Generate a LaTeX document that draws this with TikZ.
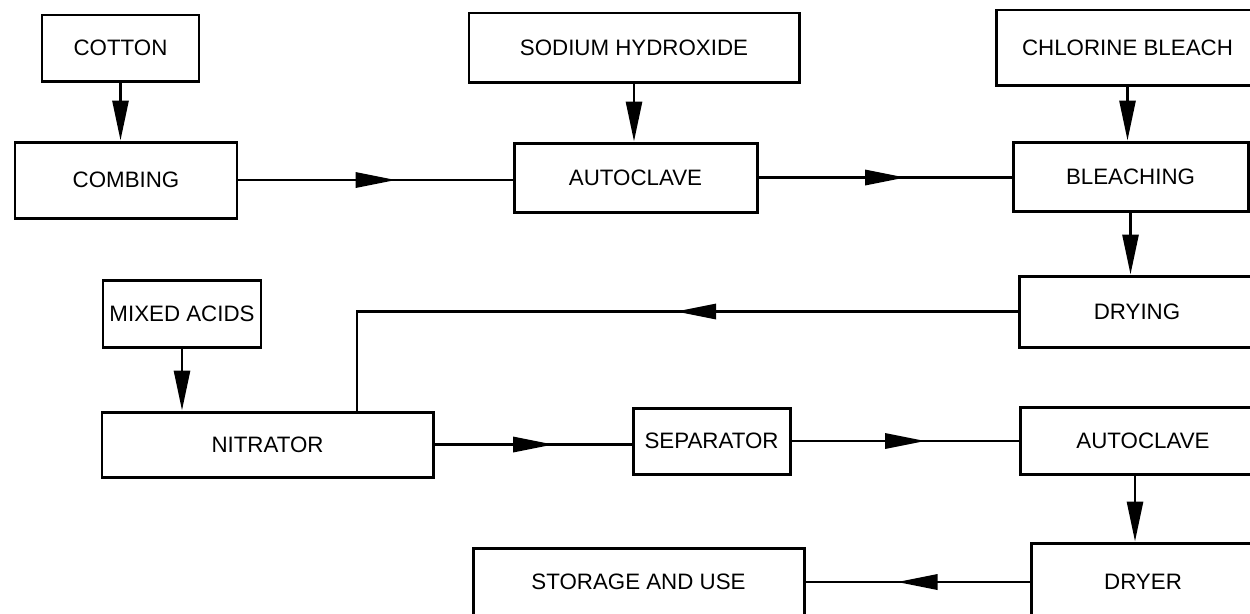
\documentclass[tikz,border=0pt]{standalone}
\usepackage{fontspec}
\setmainfont{Liberation Sans}
\usetikzlibrary{arrows.meta,decorations.markings}

\begin{document}
\begin{tikzpicture}[
  unit/.style={draw, line width=1.7pt, inner sep=0pt, font=\fontsize{12.7}{15}\selectfont},
  feed/.style={line width=1.6pt, -{Triangle[length=0.8cm,width=0.32cm]}},
  flow/.style={line width=1.6pt, postaction={decorate},
    decoration={markings, mark=at position #1 with {\fill (-0.4,-0.16) -- (0.4,0) -- (-0.4,0.16) -- cycle;}}},
  flow/.default=0.5,
]

\path[use as bounding box, clip] (0,0) rectangle (25,-12.26);

% --- top row ---
\node[unit, minimum width=3.14cm, minimum height=1.32cm] (cotton) at (2.41,-0.96) {COTTON};
\node[unit, minimum width=6.60cm, minimum height=1.38cm] (naoh) at (12.68,-0.95) {SODIUM HYDROXIDE};
\node[unit, minimum width=5.26cm, minimum height=1.50cm] (chlorine) at (22.55,-0.95) {CHLORINE BLEACH};

% --- pretreatment ---
\node[unit, minimum width=4.44cm, minimum height=1.52cm] (combing) at (2.52,-3.60) {COMBING};
\node[unit, minimum width=4.86cm, minimum height=1.38cm] (autoA) at (12.71,-3.55) {AUTOCLAVE};
\node[unit, minimum width=4.70cm, minimum height=1.38cm] (bleaching) at (22.61,-3.53) {BLEACHING};
\node[unit, minimum width=4.72cm, minimum height=1.42cm] (drying) at (22.74,-6.23) {DRYING};

% --- nitration ---
\node[unit, minimum width=3.16cm, minimum height=1.34cm] (mixed) at (3.64,-6.27) {MIXED ACIDS};
\node[unit, minimum width=6.62cm, minimum height=1.30cm] (nitrator) at (5.35,-8.89) {NITRATOR};
\node[unit, minimum width=3.14cm, minimum height=1.32cm] (separator) at (14.23,-8.82) {SEPARATOR};
\node[unit, minimum width=4.92cm, minimum height=1.34cm] (autoB) at (22.86,-8.81) {AUTOCLAVE};

% --- finishing ---
\node[unit, minimum width=4.48cm, minimum height=1.56cm] (dryer) at (22.86,-11.64) {DRYER};
\node[unit, minimum width=6.62cm, minimum height=1.36cm] (storage) at (12.77,-11.64) {STORAGE AND USE};

% feeds
\draw[feed] (cotton.south) -- (combing.north -| cotton.south);
\draw[feed] (naoh.south) -- (autoA.north -| naoh.south);
\draw[feed] (chlorine.south) -- (bleaching.north -| chlorine.south);
\draw[feed] (bleaching.south) -- (drying.north -| bleaching.south);
\draw[feed] (mixed.south) -- (nitrator.north -| mixed.south);
\draw[feed] ([xshift=-0.16cm]autoB.south) -- ([xshift=-0.16cm]autoB.south |- dryer.north);

% main flow
\draw[flow] (combing.east) -- (autoA.west |- combing.east);
\draw[flow] (autoA.east) -- (bleaching.west |- autoA.east);
\draw[flow=0.423] (drying.west) -| ([xshift=1.79cm]nitrator.north);
\draw[flow] (nitrator.east) -- (separator.west |- nitrator.east);
\draw[flow] (separator.east) -- (autoB.west |- separator.east);
\draw[flow] (dryer.west) -- (storage.east |- dryer.west);

\end{tikzpicture}
\end{document}
